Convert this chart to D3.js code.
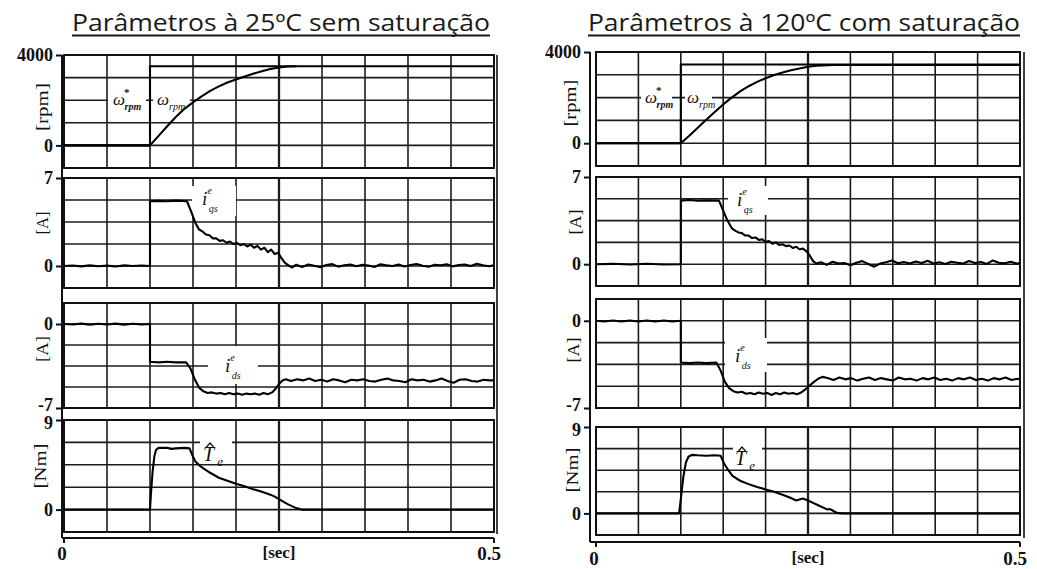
<!DOCTYPE html>
<html><head><meta charset="utf-8">
<script src="https://cdn.jsdelivr.net/npm/d3@7"></script>
<style>body{margin:0;background:#fff}</style></head><body><script>
// ---------- data ----------
const titles = ["Parâmetros à 25ºC sem saturação", "Parâmetros à 120ºC com saturação"];
const timeTicks = [0, 0.5];
const timeTickLabels = ["0", "0.5"];
const timeUnit = "[sec]";
const speedTicks = [0, 4000];
const iqsTicks = [0, 7];
const idsTicks = [-7, 0];
const teTicks = [0, 9];
const units = ["[rpm]", "[A]", "[A]", "[Nm]"];

// left: 25ºC
const speedRefL = [[0,0],[0.1,0],[0.1,3500],[0.5,3500]];
const speedL = [[0,0],[0.1,0],[0.11,420],[0.12,850],[0.13,1260],[0.14,1620],[0.15,1900],[0.16,2170],[0.17,2410],[0.18,2610],[0.19,2780],[0.2,2920],[0.21,3050],[0.22,3170],[0.23,3280],[0.24,3380],[0.25,3450],[0.26,3490],[0.27,3500]];
const iqsL = [[0,0],[0.01,0.04],[0.02,-0.03],[0.03,0.05],[0.04,-0.02],[0.05,0.03],[0.06,-0.04],[0.07,0.05],[0.08,0],[0.09,0.04],[0.1,0],[0.1,5.15],[0.11,5.18],[0.12,5.15],[0.13,5.2],[0.143,5.15],[0.148,4.3],[0.153,3.4],[0.157,2.9],[0.161,2.75],[0.165,2.5],[0.169,2.45],[0.173,2.2],[0.177,2.2],[0.181,2.0],[0.185,2.05],[0.189,1.85],[0.193,1.95],[0.197,1.75],[0.201,1.85],[0.205,1.65],[0.209,1.75],[0.213,1.55],[0.217,1.7],[0.221,1.45],[0.225,1.6],[0.229,1.3],[0.233,1.45],[0.237,1.1],[0.241,1.3],[0.245,0.95],[0.249,1.05],[0.253,0.6],[0.257,0.25],[0.261,0.05],[0.265,-0.12],
 [0.27,0.1],[0.277,-0.08],[0.284,0.12],[0.291,0.02],[0.298,-0.1],[0.305,0.08],[0.312,0.15],[0.319,-0.05],[0.326,0.06],[0.333,0.12],[0.34,-0.02],[0.347,0.1],[0.354,0.04],[0.361,-0.08],[0.368,0.14],[0.375,0.05],[0.382,0],[0.389,0.12],[0.396,-0.04],[0.403,0.08],[0.41,0.16],[0.417,0.02],[0.424,-0.06],[0.431,0.1],[0.438,0.06],[0.445,0.14],[0.452,-0.03],[0.459,0.08],[0.466,0.12],[0.473,0],[0.48,0.18],[0.487,0.06],[0.494,-0.02],[0.5,0.05]];
const idsL = [[0,0],[0.01,-0.04],[0.02,0.03],[0.03,-0.05],[0.04,0.02],[0.05,-0.04],[0.06,0.03],[0.07,-0.05],[0.08,0.02],[0.09,-0.04],[0.1,0],[0.1,-3.15],[0.11,-3.2],[0.12,-3.15],[0.13,-3.2],[0.142,-3.2],[0.147,-3.7],[0.152,-4.6],[0.157,-5.3],[0.162,-5.6],[0.167,-5.75],[0.172,-5.7],[0.177,-5.8],[0.182,-5.75],[0.187,-5.85],[0.192,-5.75],[0.197,-5.85],[0.202,-5.8],[0.207,-5.9],[0.212,-5.8],[0.217,-5.85],[0.222,-5.8],[0.227,-5.9],[0.232,-5.75],[0.237,-5.85],[0.242,-5.7],[0.246,-5.4],[0.25,-5.0],[0.254,-4.7],[0.258,-4.6],
 [0.264,-4.75],[0.271,-4.6],[0.278,-4.7],[0.285,-4.55],[0.292,-4.75],[0.299,-4.65],[0.306,-4.8],[0.313,-4.6],[0.32,-4.7],[0.327,-4.85],[0.334,-4.65],[0.341,-4.7],[0.348,-4.6],[0.355,-4.75],[0.362,-4.8],[0.369,-4.65],[0.376,-4.55],[0.383,-4.7],[0.39,-4.75],[0.397,-4.85],[0.404,-4.6],[0.411,-4.7],[0.418,-4.65],[0.425,-4.8],[0.432,-4.7],[0.439,-4.55],[0.446,-4.75],[0.453,-4.9],[0.46,-4.65],[0.467,-4.6],[0.474,-4.75],[0.481,-4.8],[0.488,-4.65],[0.495,-4.7],[0.5,-4.7]];
const teL = [[0,0],[0.1,0],[0.101,1.5],[0.103,3.8],[0.105,5.3],[0.107,6.0],[0.11,6.2],[0.12,6.2],[0.125,6.1],[0.13,6.15],[0.14,6.2],[0.146,6.15],[0.149,5.5],[0.153,4.8],[0.158,4.4],[0.163,4.1],[0.17,3.7],[0.18,3.2],[0.19,2.9],[0.2,2.6],[0.21,2.35],[0.22,2.05],[0.23,1.8],[0.24,1.5],[0.245,1.3],[0.25,1.05],[0.255,0.8],[0.26,0.55],[0.265,0.35],[0.27,0.15],[0.276,0],[0.5,0]];

// right: 120ºC
const speedRefR = [[0,0],[0.1,0],[0.1,3450],[0.5,3450]];
const speedR = [[0,0],[0.1,0],[0.11,330],[0.12,680],[0.13,1030],[0.14,1370],[0.15,1700],[0.16,2000],[0.17,2270],[0.18,2500],[0.19,2690],[0.2,2850],[0.21,2990],[0.22,3100],[0.23,3200],[0.24,3280],[0.25,3350],[0.26,3400],[0.28,3430],[0.5,3430]];
const iqsR = [[0,0],[0.02,0.03],[0.04,-0.03],[0.06,0.04],[0.08,-0.02],[0.1,0],[0.1,5.1],[0.11,5.15],[0.12,5.1],[0.13,5.12],[0.145,5.1],[0.15,4.3],[0.155,3.5],[0.16,2.9],[0.164,2.7],[0.168,2.55],[0.172,2.5],[0.176,2.3],[0.18,2.3],[0.184,2.1],[0.188,2.15],[0.192,1.95],[0.196,2.0],[0.2,1.8],[0.204,1.85],[0.208,1.65],[0.212,1.75],[0.216,1.55],[0.22,1.6],[0.224,1.45],[0.228,1.5],[0.232,1.3],[0.236,1.4],[0.24,1.2],[0.244,1.25],[0.248,1.05],[0.252,0.7],[0.256,0.25],[0.26,0.05],
 [0.265,0.15],[0.272,-0.05],[0.279,0.2],[0.286,0.05],[0.293,0.1],[0.3,-0.08],[0.307,0.12],[0.314,0.25],[0.321,0.02],[0.328,-0.2],[0.335,0.05],[0.342,0.15],[0.349,0.3],[0.356,0.08],[0.363,0.18],[0.37,0.05],[0.377,0.22],[0.384,0.1],[0.391,0.28],[0.398,0.06],[0.405,0.15],[0.412,0.02],[0.419,0.2],[0.426,0.12],[0.433,0.05],[0.44,0.25],[0.447,0.1],[0.454,0.18],[0.461,0.02],[0.468,0.3],[0.475,0.12],[0.482,0.08],[0.489,0.2],[0.496,0.05],[0.5,0.1]];
const idsR = [[0,0],[0.01,-0.05],[0.02,0.02],[0.03,-0.06],[0.04,0.03],[0.05,-0.05],[0.06,0.02],[0.07,-0.06],[0.08,0.03],[0.09,-0.05],[0.1,0],[0.1,-3.35],[0.11,-3.4],[0.12,-3.35],[0.13,-3.4],[0.142,-3.35],[0.147,-4.0],[0.152,-4.9],[0.157,-5.4],[0.162,-5.65],[0.167,-5.75],[0.172,-5.7],[0.177,-5.85],[0.182,-5.8],[0.187,-5.9],[0.192,-5.75],[0.197,-5.85],[0.202,-5.8],[0.207,-5.95],[0.212,-5.8],[0.217,-5.9],[0.222,-5.75],[0.227,-5.85],[0.232,-5.8],[0.237,-5.9],[0.242,-5.75],[0.247,-5.5],[0.252,-5.2],[0.257,-4.9],[0.262,-4.65],[0.267,-4.5],
 [0.273,-4.6],[0.28,-4.75],[0.287,-4.55],[0.294,-4.7],[0.301,-4.6],[0.308,-4.8],[0.315,-4.65],[0.322,-4.55],[0.329,-4.75],[0.336,-4.6],[0.343,-4.7],[0.35,-4.8],[0.357,-4.55],[0.364,-4.7],[0.371,-4.65],[0.378,-4.8],[0.385,-4.6],[0.392,-4.7],[0.399,-4.55],[0.406,-4.75],[0.413,-4.65],[0.42,-4.8],[0.427,-4.6],[0.434,-4.7],[0.441,-4.55],[0.448,-4.75],[0.455,-4.65],[0.462,-4.8],[0.469,-4.6],[0.476,-4.7],[0.483,-4.55],[0.49,-4.75],[0.497,-4.65],[0.5,-4.7]];
const teR = [[0,0],[0.098,0],[0.1,1.5],[0.103,3.8],[0.106,5.3],[0.109,5.9],[0.113,6.1],[0.12,6.05],[0.13,6.0],[0.14,6.05],[0.147,6.0],[0.151,5.2],[0.156,4.5],[0.161,3.9],[0.17,3.4],[0.18,3.05],[0.19,2.75],[0.2,2.5],[0.21,2.25],[0.22,1.95],[0.23,1.6],[0.236,1.35],[0.24,1.45],[0.244,1.55],[0.25,1.35],[0.256,1.1],[0.262,0.85],[0.268,0.6],[0.273,0.4],[0.276,0.45],[0.279,0.3],[0.284,0.05],[0.29,0],[0.5,0]];

// ---------- layout ----------
const INK = "#111";
const SERIF = "'Liberation Serif','Times New Roman',serif";
const svg = d3.select("body").append("svg").attr("width",1037).attr("height",569).style("background","#fff");

const sides = [
 {title:titles[0], tx:[72,490], xr:[64,494], axisX:62, frameR:497, top:55, bottom:538, labY:560, secY:558,
  panels:[
   {yr:[168,55], dom:[-1000,4000], ticks:speedTicks, unit:units[0], up:[42,107], ul:48, series:[speedRefL, speedL]},
   {yr:[288,178], dom:[-1.75,7], ticks:iqsTicks, unit:units[1], up:[42,223], ul:23, series:[iqsL]},
   {yr:[408,303], dom:[-7,1.75], ticks:idsTicks, unit:units[2], up:[42,349], ul:26, series:[idsL]},
   {yr:[532,420], dom:[-2.25,9], ticks:teTicks, unit:units[3], up:[40,466], ul:45, series:[teL]}],
  bgs:[[108,88,146,114],[153,88,190,114],[192,186,236,216],[208,346,258,384],[200,430,232,462]],
  labels:{w1:[113,105], w2:[157,105], iq:[202,205], id:[225,372], te:[203,461]}},
 {title:titles[1], tx:[588,1020], xr:[596,1020], axisX:590, frameR:1024, top:52, bottom:542, labY:565, secY:563,
  panels:[
   {yr:[166,52], dom:[-1000,4000], ticks:speedTicks, unit:units[0], up:[570,103], ul:47, series:[speedRefR, speedR]},
   {yr:[286,177], dom:[-1.75,7], ticks:iqsTicks, unit:units[1], up:[575,222], ul:25, series:[iqsR]},
   {yr:[408,299], dom:[-7,1.75], ticks:idsTicks, unit:units[2], up:[573,350], ul:25, series:[idsR]},
   {yr:[535,427], dom:[-2.25,9], ticks:teTicks, unit:units[3], up:[572,470], ul:45, series:[teR]}],
  bgs:[[641,86,672,112],[685,86,712,112],[728,186,768,215],[725,338,767,372],[733,438,762,468]],
  labels:{w1:[645,103], w2:[687,103], iq:[737,206], id:[735,362], te:[735,465]}}
];

function txt(g,x,y,s,size,opts={}){
  return g.append("text").attr("x",x).attr("y",y).text(s)
    .attr("font-family",SERIF).attr("font-size",size).attr("fill",INK)
    .attr("font-style",opts.italic?"italic":"normal").attr("font-weight",opts.bold?"bold":"normal")
    .attr("text-anchor",opts.anchor||"start");
}
// one text element with main glyph plus super/subscripts as tspans
function sym(g,x,y,main,size,sup,sub,o={}){
  const t = g.append("text").attr("x",x).attr("y",y)
    .attr("font-family",SERIF).attr("font-style","italic").attr("font-size",size).attr("fill",INK);
  t.append("tspan").text(main);
  if(sup){ t.append("tspan").attr("dx",o.supDx||0).attr("dy",o.supDy||-11).attr("font-size",o.supSize||10)
            .attr("font-style",o.supItalic===false?"normal":"italic").attr("font-weight",o.supBold?"bold":"normal").text(sup); }
  if(sub){ t.append("tspan").attr("dx",o.subDx||0).attr("dy",o.subDy||5).attr("font-size",o.subSize||10)
            .attr("font-weight",o.subBold?"bold":"normal").text(sub); }
  return t;
}

sides.forEach(S=>{
  const g = svg.append("g");
  const x = d3.scaleLinear().domain([0,0.5]).range(S.xr);

  // title
  g.append("text").attr("x",S.tx[0]).attr("y",31).text(S.title)
    .attr("font-family","'Open Sans','Noto Sans',sans-serif").attr("font-size",24).attr("fill","#1a1a1a")
    .attr("textLength",S.tx[1]-S.tx[0]).attr("lengthAdjust","spacingAndGlyphs");
  g.append("line").attr("x1",S.tx[0]).attr("x2",S.tx[1]).attr("y1",35.5).attr("y2",35.5).attr("stroke","#1a1a1a").attr("stroke-width",1.8);

  // outer frame lines
  g.append("line").attr("x1",S.axisX).attr("x2",S.axisX).attr("y1",S.top).attr("y2",S.bottom).attr("stroke",INK).attr("stroke-width",2);
  g.append("line").attr("x1",S.frameR).attr("x2",S.frameR).attr("y1",S.top).attr("y2",S.bottom-4).attr("stroke",INK).attr("stroke-width",1.6);
  g.append("line").attr("x1",S.axisX).attr("x2",S.xr[1]).attr("y1",S.bottom).attr("y2",S.bottom).attr("stroke",INK).attr("stroke-width",2);

  // bottom axis ticks and labels
  timeTicks.forEach((tv,i)=>{
    g.append("line").attr("x1",x(tv)).attr("x2",x(tv)).attr("y1",S.bottom).attr("y2",S.bottom+5).attr("stroke",INK).attr("stroke-width",2);
    txt(g, x(tv)-(i?5:2), S.labY, timeTickLabels[i], 19, {bold:true, anchor:"middle"});
  });
  txt(g, x(0.25), S.secY, timeUnit, 17, {bold:true, anchor:"middle"});

  S.panels.forEach((P,pi)=>{
    const y = d3.scaleLinear().domain(P.dom).range(P.yr);
    const pg = g.append("g");
    // grid
    const hv = d3.range(6).map(i=>P.dom[0]+i*(P.dom[1]-P.dom[0])/5);
    pg.selectAll(".h").data(hv).join("line")
      .attr("x1",S.xr[0]).attr("x2",S.xr[1]).attr("y1",d=>y(d)).attr("y2",d=>y(d))
      .attr("stroke","#1c1c1c").attr("stroke-width",1.6);
    pg.selectAll(".v").data(x.ticks(10)).join("line")
      .attr("x1",d=>x(d)).attr("x2",d=>x(d)).attr("y1",P.yr[1]).attr("y2",P.yr[0])
      .attr("stroke","#1c1c1c").attr("stroke-width",d=>Math.abs(d-0.25)<1e-9?2.3:1.6);
    pg.append("rect").attr("x",S.xr[0]).attr("y",P.yr[1]).attr("width",S.xr[1]-S.xr[0]).attr("height",P.yr[0]-P.yr[1])
      .attr("fill","none").attr("stroke",INK).attr("stroke-width",2);

    // left ticks (values through scale)
    const ax = d3.axisLeft(y).tickValues(P.ticks).tickSize(6).tickPadding(3).tickFormat(d=>String(d));
    const ag = pg.append("g").attr("transform",`translate(${S.axisX},0)`).call(ax);
    ag.select(".domain").remove();
    ag.selectAll("line").attr("stroke",INK).attr("stroke-width",2);
    ag.selectAll("text").attr("font-family",SERIF).attr("font-weight","bold").attr("font-size",18).attr("fill",INK)
      .attr("dy", d => d===-7 ? "0.12em" : (d===9 ? "0.48em" : "0.32em"));

    // unit label
    g.append("text").attr("transform",`translate(${P.up[0]},${P.up[1]}) rotate(-90)`)
      .attr("text-anchor","middle").attr("dy","0.35em").text(P.unit)
      .attr("font-family",SERIF).attr("font-size",17).attr("fill",INK)
      .attr("textLength",P.ul).attr("lengthAdjust","spacingAndGlyphs");

    P.y = y;
  });

  // white label backgrounds
  g.selectAll(".bg").data(S.bgs).join("rect")
    .attr("x",d=>d[0]).attr("y",d=>d[1]).attr("width",d=>d[2]-d[0]).attr("height",d=>d[3]-d[1]).attr("fill","#fff");

  // traces
  S.panels.forEach(P=>{
    const line = d3.line().x(d=>x(d[0])).y(d=>P.y(d[1]));
    P.series.forEach(s=>{
      g.append("path").attr("d",line(s)).attr("fill","none").attr("stroke","#000").attr("stroke-width",2.1).attr("stroke-linejoin","round");
    });
  });

  // annotations
  const L = S.labels;
  sym(g, L.w1[0], L.w1[1], "ω", 17, "*", "rpm", {supDx:-1, supDy:-9, supSize:11, supItalic:false, supBold:true, subDx:-5, subDy:14, subBold:true});
  sym(g, L.w2[0], L.w2[1], "ω", 17, null, "rpm", {subDx:0, subDy:5});
  sym(g, L.iq[0], L.iq[1], "i", 19, "e", "qs", {supDx:0, supDy:-11, subDx:-3, subDy:18});
  sym(g, L.id[0], L.id[1], "i", 19, "e", "ds", {supDx:0, supDy:-11, subDx:-3, subDy:18});
  sym(g, L.te[0], L.te[1], "T", 20, null, "e", {subDx:3, subDy:5, subSize:13});
  // circumflex accent over T
  const hx = L.te[0]+7, hy = L.te[1]-17;
  g.append("path").attr("d",`M${hx-3.5},${hy+3}L${hx},${hy-1}L${hx+3.5},${hy+3}`)
    .attr("fill","none").attr("stroke",INK).attr("stroke-width",1.3);
});
</script></body></html>
